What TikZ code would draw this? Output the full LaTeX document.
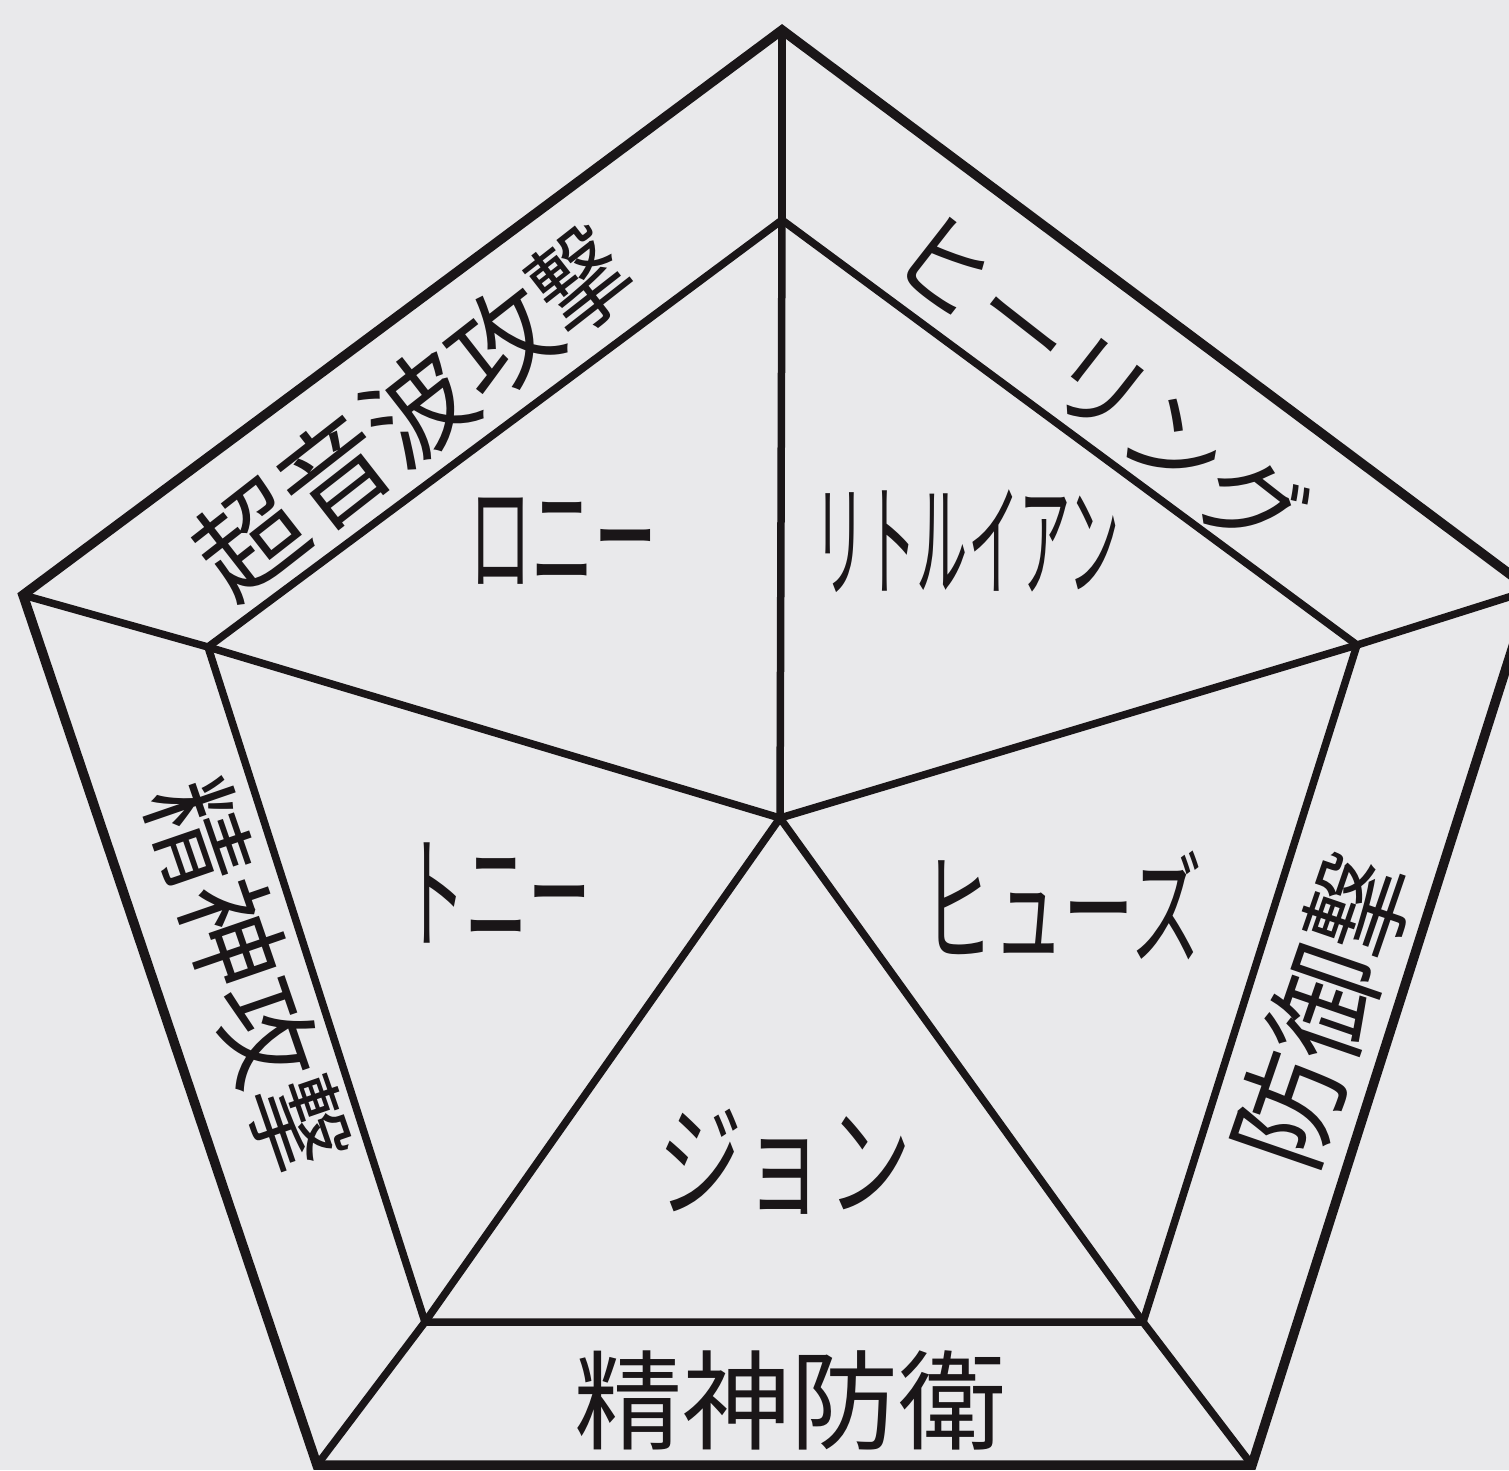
\documentclass[tikz,border=0pt]{standalone}
\usepackage{fontspec}
\newfontfamily\cjk{Noto Sans CJK JP}
\definecolor{bg}{RGB}{233,233,235}
\definecolor{ink}{RGB}{26,22,24}
\begin{document}
\begin{tikzpicture}[x=1pt,y=-1pt,
  outerline/.style={draw=ink,line width=9.5pt,line join=miter},
  innerline/.style={draw=ink,line width=7.5pt,line join=miter},
  lbl/.style={text=ink,inner sep=0pt,font=\cjk}]
\fill[bg] (0,0) rectangle (1509,1470);
\useasboundingbox (0,0) rectangle (1509,1470);
\begin{scope}
\clip (0,0) rectangle (1509,1470);
\coordinate (OT) at (782,30);
\coordinate (OR) at (1531,590);
\coordinate (OBR) at (1252,1465);
\coordinate (OBL) at (317,1465);
\coordinate (OL) at (23,595);
\coordinate (IT) at (782,220);
\coordinate (IR) at (1357,645);
\coordinate (IBR) at (1143,1322);
\coordinate (IBL) at (425,1322);
\coordinate (IL) at (208,647);
\coordinate (C) at (780,818);
\draw[outerline] (OT) -- (OR) -- (OBR) -- (OBL) -- (OL) -- cycle;
\draw[innerline] (IT) -- (IR) -- (IBR) -- (IBL) -- (IL) -- cycle;
\draw[innerline] (OT) -- (IT);
\draw[innerline] (OR) -- (IR);
\draw[innerline] (OBR) -- (IBR);
\draw[innerline] (OBL) -- (IBL);
\draw[innerline] (OL) -- (IL);
\draw[innerline] (C) -- (IT);
\draw[innerline] (C) -- (IR);
\draw[innerline] (C) -- (IBR);
\draw[innerline] (C) -- (IBL);
\draw[innerline] (C) -- (IL);
\end{scope}
% band labels
\node[lbl,rotate=38] (sonic) at (412,412) {\fontsize{107}{110}\selectfont 超音波攻\scalebox{0.85}[1]{撃}};
\node[lbl,rotate=-38] (heal) at (1100,384) {\fontsize{102}{110}\selectfont\scalebox{0.95}[1]{ヒーリング}};
\node[lbl,rotate=71] (defatk) at (1322,1012) {\fontsize{112}{120}\selectfont 防御\scalebox{0.85}[1]{撃}};
\node[lbl,rotate=-71] (mentatk) at (248,975) {\fontsize{105}{110}\selectfont 精神攻\scalebox{0.85}[1]{撃}};
\node[lbl] (mentdef) at (790,1400) {\fontsize{108}{120}\selectfont 精神防衛};
% names
\node[lbl] (ronnie) at (563,541) {\fontsize{125}{130}\selectfont\scalebox{0.5}[1]{ロニー}};
\node[lbl] (ian) at (967,541) {\fontsize{125}{130}\selectfont\scalebox{0.41}[1]{リトルイアン}};
\node[lbl] (tony) at (497,893) {\fontsize{125}{130}\selectfont\scalebox{0.5}[1]{トニー}};
\node[lbl] (hughes) at (1062,905) {\fontsize{122}{130}\selectfont\scalebox{0.58}[1]{ヒューズ}};
\node[lbl] (john) at (785,1162) {\fontsize{124}{130}\selectfont\scalebox{0.68}[1]{ジョン}};
\end{tikzpicture}
\end{document}
